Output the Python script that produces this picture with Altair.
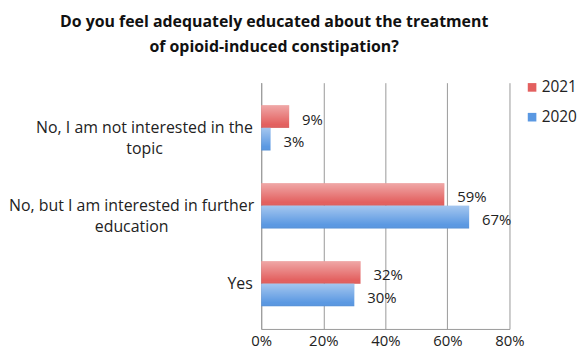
import altair as alt
import pandas as pd

categories = ["No, I am not interested in the|topic",
              "No, but I am interested in further|education",
              "Yes"]
years = ["2021", "2020"]
values_2021 = [0.09, 0.59, 0.32]
values_2020 = [0.03, 0.67, 0.30]
x_ticks = [0, 0.2, 0.4, 0.6, 0.8]

rows = []
for c, v21, v20 in zip(categories, values_2021, values_2020):
    rows.append({"category": c, "year": "2021", "value": v21})
    rows.append({"category": c, "year": "2020", "value": v20})
df = pd.DataFrame(rows)

FONT = "Open Sans"

# multi-line labels are centred as a block, single-line ones right-aligned
label_align = {"condition": {"test": "indexof(datum.label, '|') >= 0", "value": "center"},
               "value": "right"}
label_padding = {"condition": [
    {"test": f"datum.label == '{categories[0]}'", "value": 118},
    {"test": f"datum.label == '{categories[1]}'", "value": 131}],
    "value": 9}

y_enc = alt.Y("category:N", sort=categories, title=None,
              scale=alt.Scale(paddingInner=0.42, paddingOuter=0.29),
              axis=alt.Axis(labelExpr="split(datum.label, '|')", labelFontSize=16,
                            labelFont=FONT, labelColor="#222", labelLineHeight=21,
                            ticks=False, domainColor="#999",
                            labelAlign=label_align, labelPadding=label_padding,
                            labelLimit=300))
x_enc = alt.X("value:Q", title=None,
              scale=alt.Scale(domain=[0, 0.8], nice=False),
              axis=alt.Axis(values=x_ticks, format=".0%", labelFontSize=15, labelFont=FONT,
                            labelColor="#222", grid=True, gridColor="#999", ticks=False,
                            labelFlush=False, domainColor="#999", labelPadding=5))
yoff = alt.YOffset("year:N", sort=years, scale=alt.Scale(domain=years))

base = alt.Chart(df)

bars = base.mark_bar().encode(
    x=x_enc, y=y_enc, yOffset=yoff,
    color=alt.Color("year:N", sort=years,
                    scale=alt.Scale(domain=years, range=["#E3605F", "#5A98E2"]),
                    legend=alt.Legend(title=None, orient="none", legendX=265, legendY=-3,
                                      symbolType="square", padding=0,
                                      symbolSize=75, labelFontSize=15.5, labelFont=FONT,
                                      labelColor="#222", rowPadding=13, labelOffset=2,
                                      symbolStrokeWidth=0)),
)

shine = base.mark_bar(
    color=alt.Gradient(gradient="linear",
                       stops=[alt.GradientStop(color="rgba(255,255,255,0.45)", offset=0),
                              alt.GradientStop(color="rgba(255,255,255,0.0)", offset=0.85),
                              alt.GradientStop(color="rgba(0,0,0,0.06)", offset=1)],
                       x1=0, x2=0, y1=0, y2=1)
).encode(x="value:Q", y=alt.Y("category:N", sort=categories), yOffset=yoff)

labels = base.mark_text(align="left", baseline="middle", dx=13, dy=3,
                        fontSize=15, font=FONT, color="#222").encode(
    x="value:Q", y=alt.Y("category:N", sort=categories), yOffset=yoff,
    text=alt.Text("value:Q", format=".0%"))

chart = alt.layer(bars, shine, labels).properties(
    width=250, height=248,
    padding={"left": 0, "top": 5, "right": 0, "bottom": 0},
    title=alt.TitleParams(["Do you feel adequately educated about the treatment",
                           "of opioid-induced constipation?"],
                          fontSize=16, font=FONT, fontWeight="bold", color="#111",
                          anchor="middle", frame="group", lineHeight=25, offset=25,
                          dx=-112),
).configure_view(stroke=None)

chart.save("out.html", embed_options={"renderer": "svg", "actions": False})
